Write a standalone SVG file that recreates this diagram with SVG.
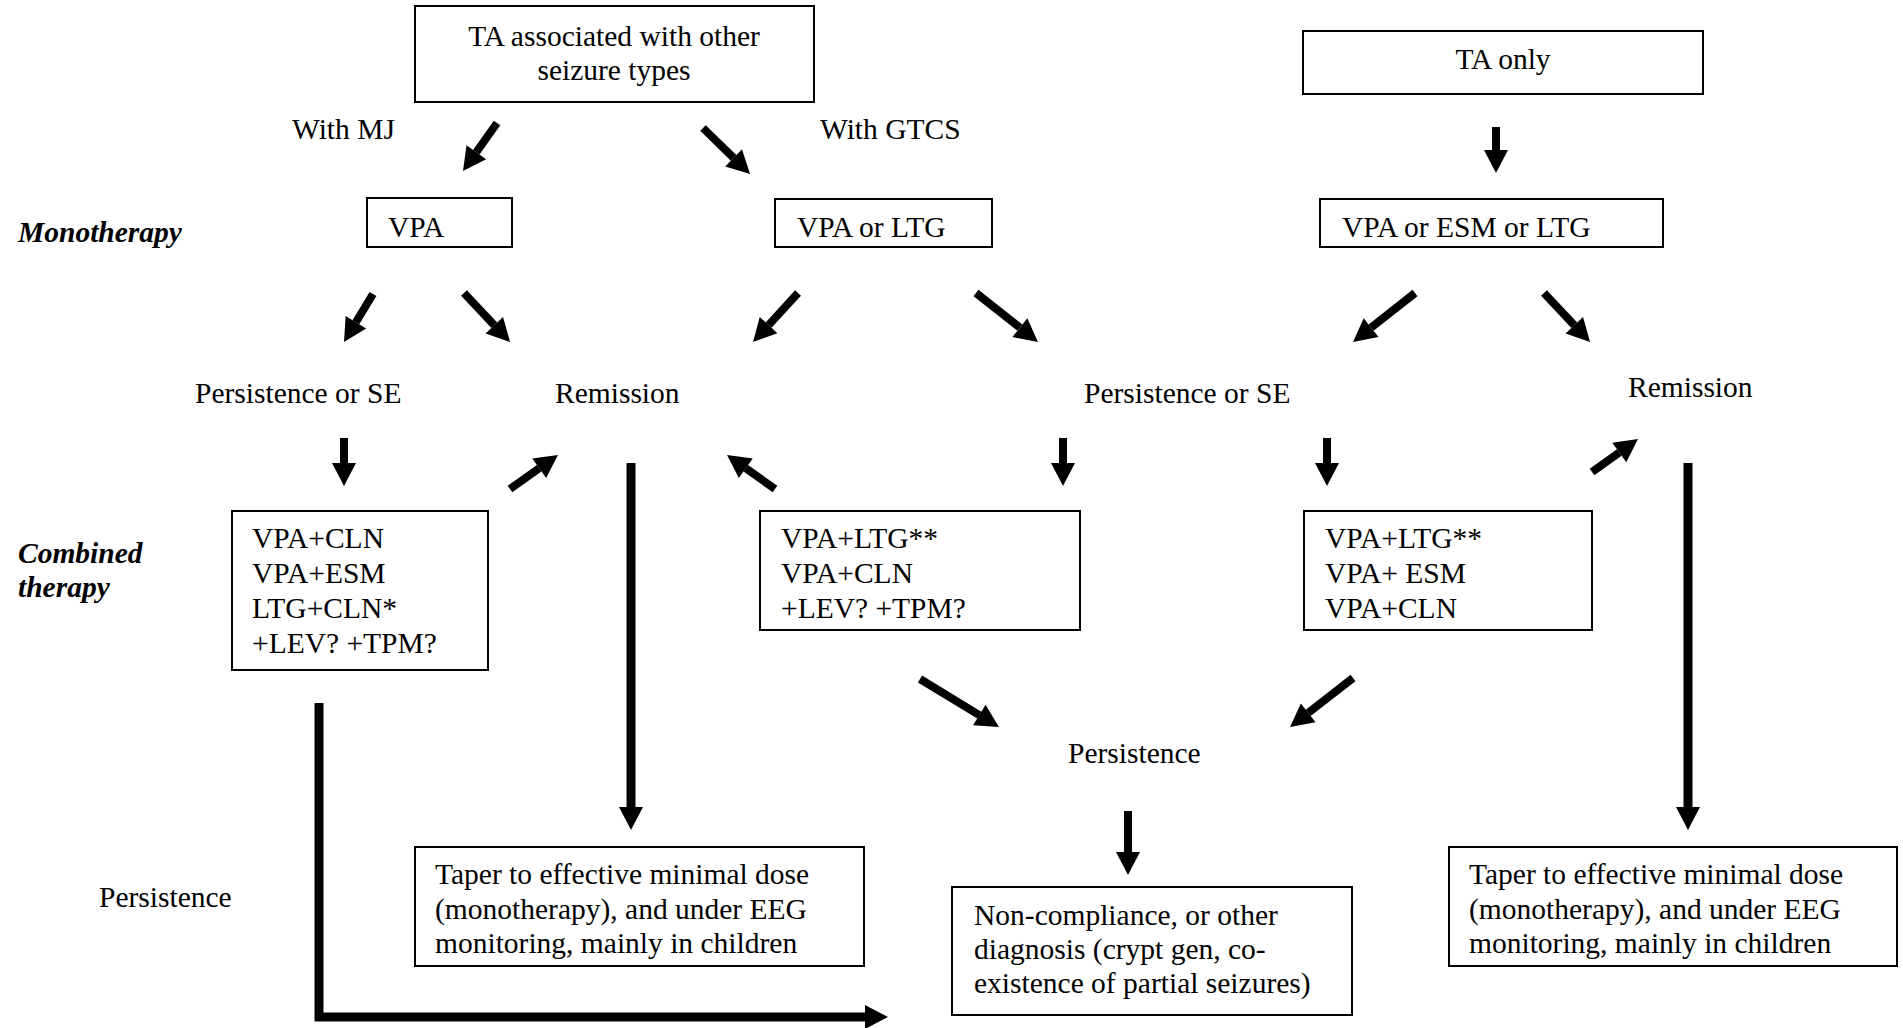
<svg xmlns="http://www.w3.org/2000/svg" width="1903" height="1028" viewBox="0 0 1903 1028">
<defs>
<style>
text{font-family:"Liberation Serif","Times New Roman",serif;font-size:29.5px;fill:#000}
.lbl{font-weight:bold;font-style:italic}
.box{fill:#fff;stroke:#000;stroke-width:2}
.arr{fill:none;stroke:#000;stroke-width:8;marker-end:url(#ah)}
.long{fill:none;stroke:#000;stroke-width:9;marker-end:url(#ah)}
</style>
<marker id="ah" markerUnits="userSpaceOnUse" markerWidth="24" markerHeight="26" viewBox="0 -13 24 26" refX="0" refY="0" orient="auto" overflow="visible">
<path d="M0,-12 L23,0 L0,12 z" fill="#000"/>
</marker>
</defs>
<rect width="1903" height="1028" fill="#fff"/>

<g id="side-labels">
<text class="lbl" x="18" y="242">Monotherapy</text>
<text class="lbl" x="18" y="563">Combined</text>
<text class="lbl" x="18" y="597">therapy</text>
</g>

<g id="connectors">
<line class="arr" x1="497" y1="123" x2="476.3" y2="152.2"/>
<line class="arr" x1="703" y1="128" x2="733.6" y2="157.9"/>
<line class="arr" x1="1496" y1="127" x2="1496" y2="150"/>
<line class="arr" x1="373" y1="294" x2="355.9" y2="322.3"/>
<line class="arr" x1="464" y1="293" x2="494.3" y2="325.2"/>
<line class="arr" x1="798" y1="293" x2="768.6" y2="325.1"/>
<line class="arr" x1="976" y1="293" x2="1019.9" y2="327.7"/>
<line class="arr" x1="1415" y1="293" x2="1371.1" y2="327.7"/>
<line class="arr" x1="1544" y1="293" x2="1574.3" y2="325.2"/>
<line class="arr" x1="344" y1="438" x2="344" y2="463"/>
<line class="arr" x1="510" y1="489" x2="539.2" y2="468.3"/>
<line class="arr" x1="775" y1="489" x2="745.8" y2="468.3"/>
<line class="arr" x1="1063" y1="438" x2="1063" y2="463"/>
<line class="arr" x1="1327" y1="438" x2="1327" y2="463"/>
<line class="arr" x1="1592" y1="472" x2="1619.3" y2="452.4"/>
<line class="long" x1="631" y1="463" x2="631" y2="807"/>
<line class="long" x1="1688" y1="463" x2="1688" y2="807"/>
<line class="arr" x1="920" y1="679" x2="979.3" y2="715.1"/>
<line class="arr" x1="1353" y1="678" x2="1308.2" y2="712.9"/>
<line class="arr" x1="1128" y1="811" x2="1128" y2="852"/>
<polyline class="long" points="319,703 319,1017 865,1017"/>
</g>

<g id="n-ta-assoc">
<rect class="box" x="415" y="6" width="399" height="96"/>
<text x="614" y="46" text-anchor="middle">TA associated with other</text>
<text x="614" y="80" text-anchor="middle">seizure types</text>
</g>
<g id="n-ta-only">
<rect class="box" x="1303" y="31" width="400" height="63"/>
<text x="1503" y="69" text-anchor="middle">TA only</text>
</g>
<text id="t-with-mj" x="292" y="139">With MJ</text>
<text id="t-with-gtcs" x="820" y="139">With GTCS</text>

<g id="n-vpa">
<rect class="box" x="367" y="198" width="145" height="49"/>
<text x="388" y="237">VPA</text>
</g>
<g id="n-vpa-ltg">
<rect class="box" x="775" y="199" width="217" height="48"/>
<text x="797" y="237">VPA or LTG</text>
</g>
<g id="n-vpa-esm-ltg">
<rect class="box" x="1320" y="199" width="343" height="48"/>
<text x="1342" y="237">VPA or ESM or LTG</text>
</g>

<text id="t-pers-se-1" x="195" y="403">Persistence or SE</text>
<text id="t-rem-1" x="555" y="403">Remission</text>
<text id="t-pers-se-2" x="1084" y="403">Persistence or SE</text>
<text id="t-rem-2" x="1628" y="397">Remission</text>

<g id="n-comb-1">
<rect class="box" x="232" y="511" width="256" height="159"/>
<text x="252" y="548">VPA+CLN</text>
<text x="252" y="583">VPA+ESM</text>
<text x="252" y="618">LTG+CLN*</text>
<text x="252" y="653">+LEV? +TPM?</text>
</g>
<g id="n-comb-2">
<rect class="box" x="760" y="511" width="320" height="119"/>
<text x="781" y="548">VPA+LTG**</text>
<text x="781" y="583">VPA+CLN</text>
<text x="781" y="618">+LEV? +TPM?</text>
</g>
<g id="n-comb-3">
<rect class="box" x="1304" y="511" width="288" height="119"/>
<text x="1325" y="548">VPA+LTG**</text>
<text x="1325" y="583">VPA+ ESM</text>
<text x="1325" y="618">VPA+CLN</text>
</g>

<text id="t-pers-center" x="1068" y="763">Persistence</text>
<text id="t-pers-left" x="99" y="907">Persistence</text>

<g id="n-taper-1">
<rect class="box" x="415" y="847" width="449" height="119"/>
<text x="435" y="884">Taper to effective minimal dose</text>
<text x="435" y="919">(monotherapy), and under EEG</text>
<text x="435" y="953">monitoring, mainly in children</text>
</g>
<g id="n-noncomp">
<rect class="box" x="952" y="887" width="400" height="128"/>
<text x="974" y="925">Non-compliance, or other</text>
<text x="974" y="959">diagnosis (crypt gen, co-</text>
<text x="974" y="993">existence of partial seizures)</text>
</g>
<g id="n-taper-2">
<rect class="box" x="1449" y="847" width="448" height="119"/>
<text x="1469" y="884">Taper to effective minimal dose</text>
<text x="1469" y="919">(monotherapy), and under EEG</text>
<text x="1469" y="953">monitoring, mainly in children</text>
</g>
</svg>
